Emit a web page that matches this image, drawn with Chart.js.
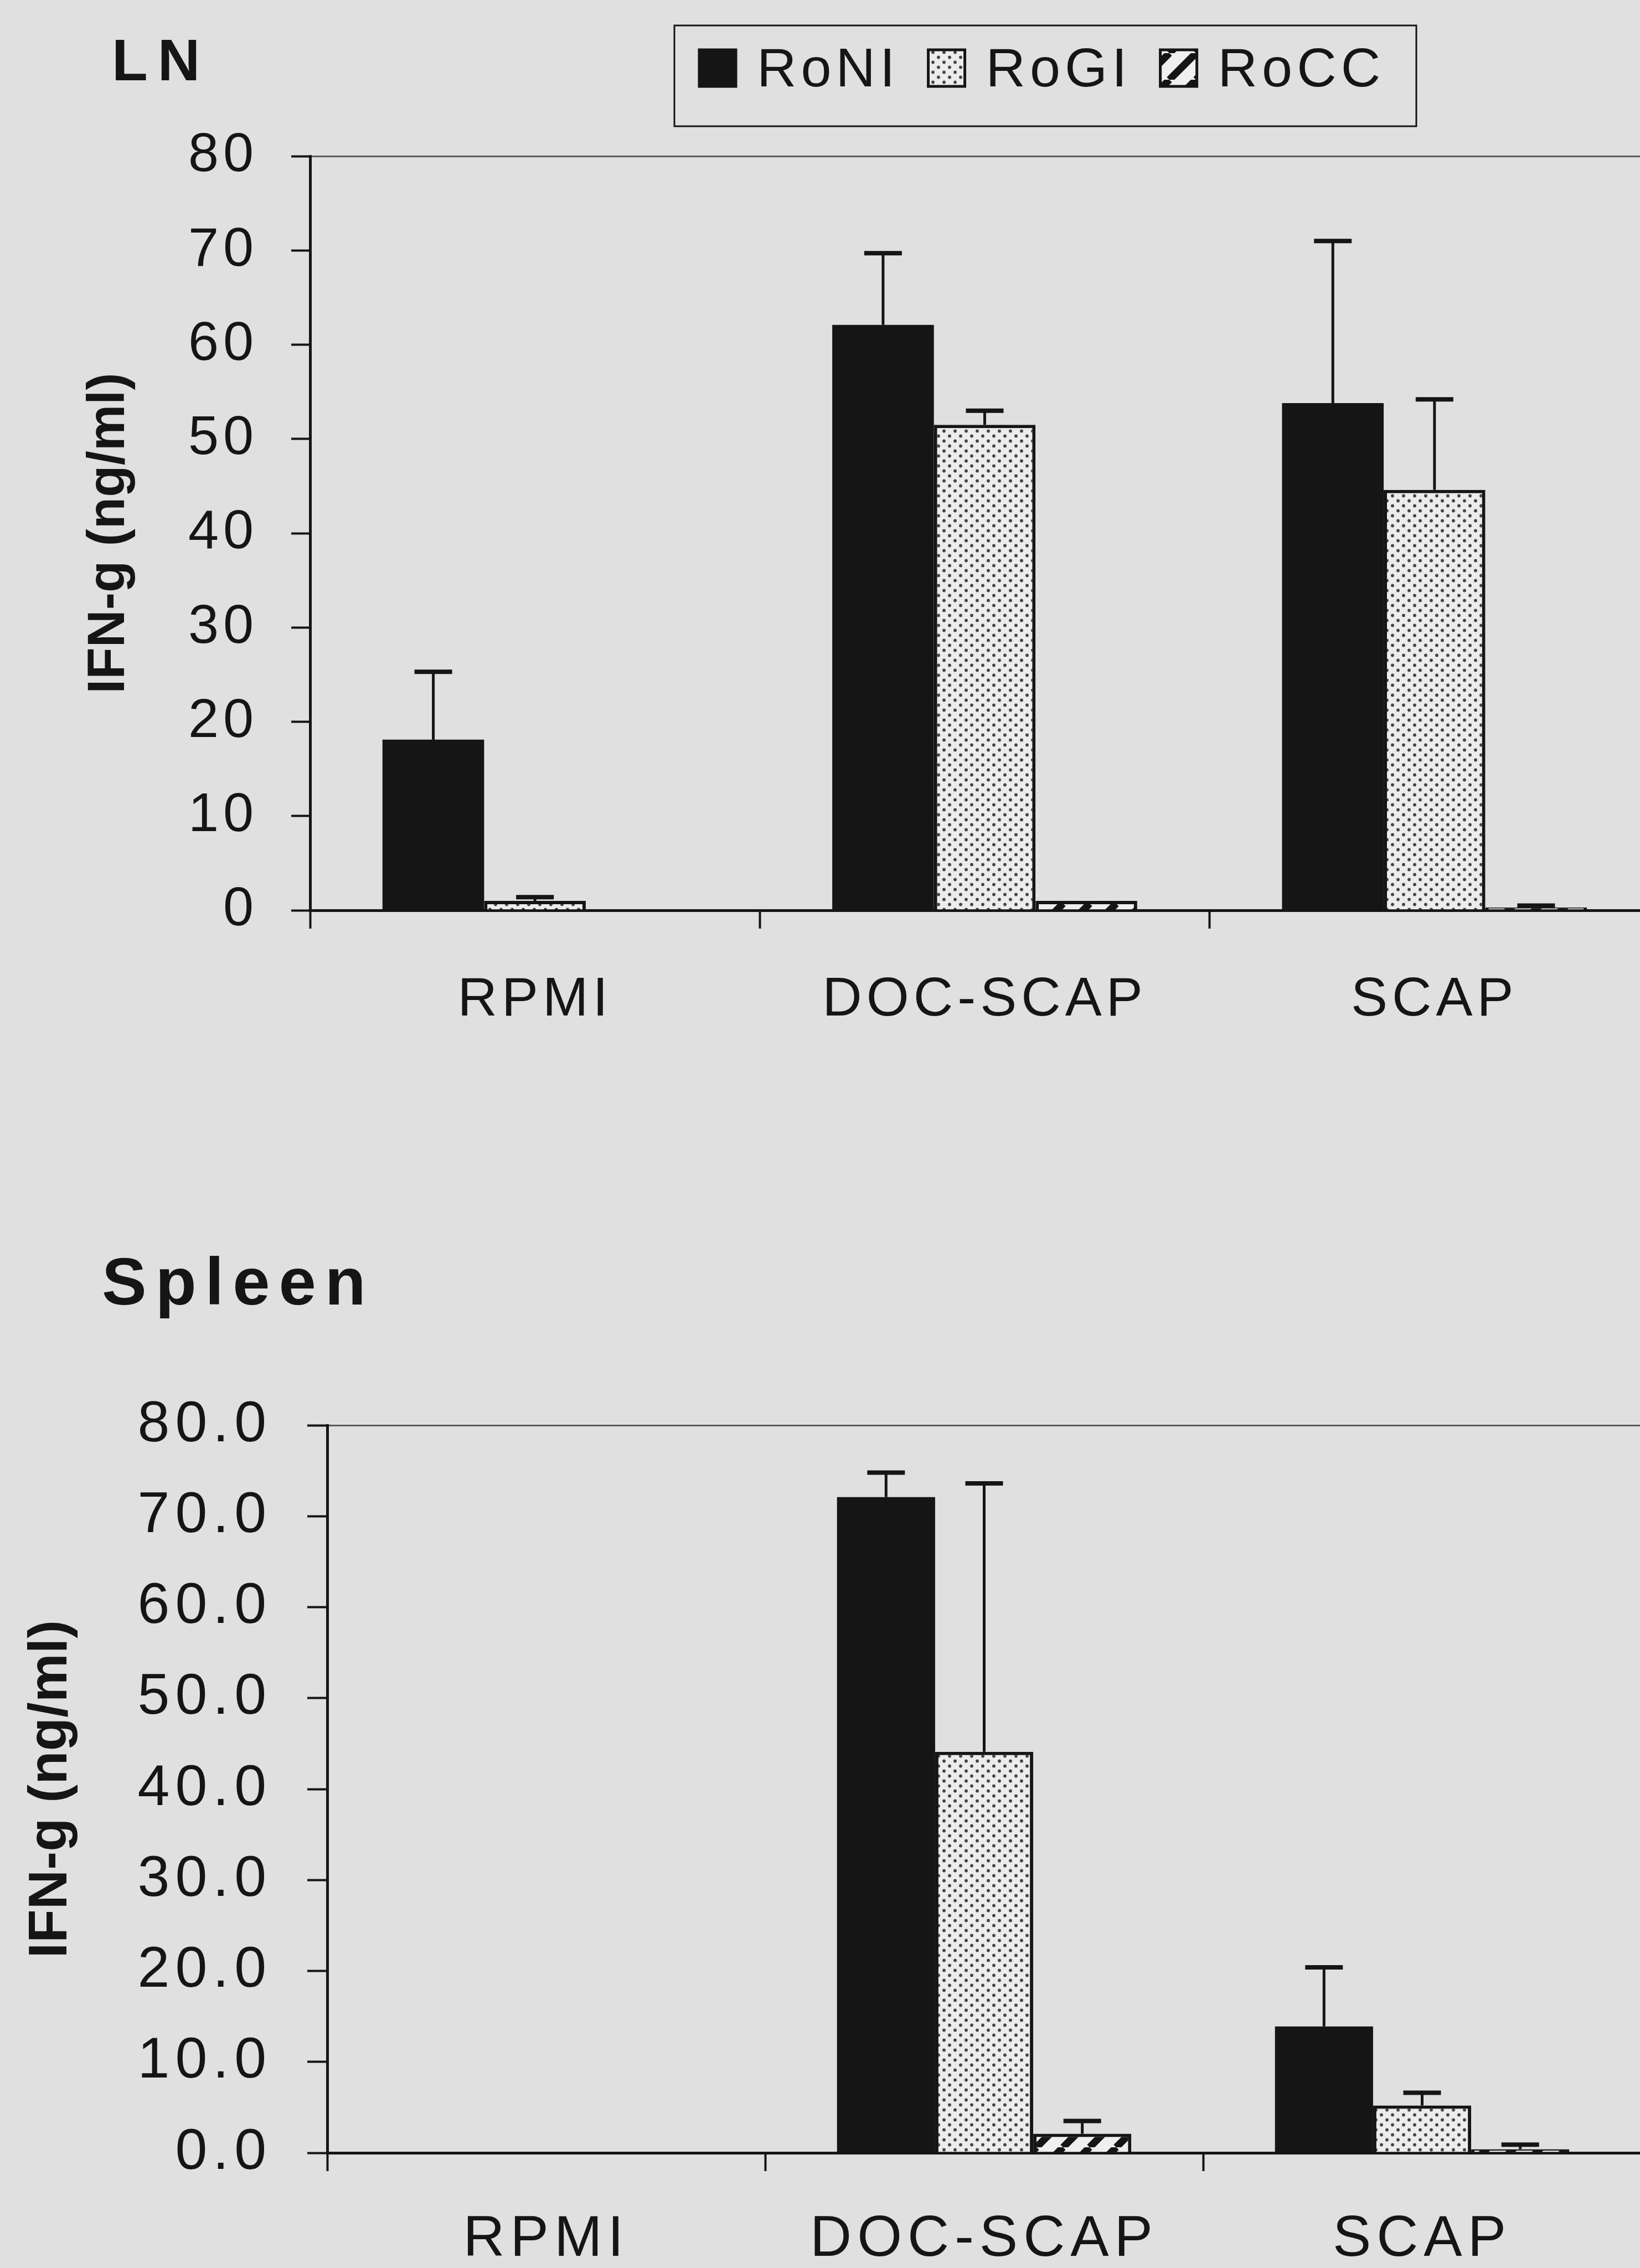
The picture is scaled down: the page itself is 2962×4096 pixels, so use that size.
<!DOCTYPE html>
<html lang="en">
<head>
<meta charset="utf-8">
<title>IFN-g production: LN and Spleen</title>
<script src="https://cdn.jsdelivr.net/npm/chart.js@4.4.1/dist/chart.umd.min.js"></script>
<style>
  html, body { margin: 0; padding: 0; background: #e0e0e0; overflow: hidden; }
  body { width: 2962px; height: 4096px; position: relative; }
  canvas { position: absolute; left: 0; display: block; }
  #lnChart { top: 0; }
  #spleenChart { top: 2150px; }
</style>
</head>
<body>
<canvas id="lnChart" width="3010" height="1900"></canvas>
<canvas id="spleenChart" width="2980" height="1946"></canvas>
<script>
// Stimulation conditions along the x axis
const categories = ['RPMI', 'DOC-SCAP', 'SCAP'];
const seriesNames = ['RoNI', 'RoGI', 'RoCC'];

// Lymph node IFN-g (ng/ml): group means and upper error (SD)
const lnRoNI = [18.1, 62.1, 53.8];
const lnRoNIErr = [7.2, 7.6, 17.2];
const lnRoGI = [1.0, 51.5, 44.6];
const lnRoGIErr = [0.4, 1.5, 9.6];
const lnRoCC = [0, 1.0, 0.3];
const lnRoCCErr = [0, 0, 0.2];

// Spleen IFN-g (ng/ml): group means and upper error (SD)
const spRoNI = [0, 72.1, 13.9];
const spRoNIErr = [0, 2.7, 6.5];
const spRoGI = [0, 44.1, 5.2];
const spRoGIErr = [0, 29.5, 1.4];
const spRoCC = [0, 2.1, 0.4];
const spRoCCErr = [0, 1.4, 0.5];

// Y axis tick values and their printed labels
const lnTickValues = [0, 10, 20, 30, 40, 50, 60, 70, 80];
const lnTickLabels = ['0', '10', '20', '30', '40', '50', '60', '70', '80'];
const spTickValues = [0, 10, 20, 30, 40, 50, 60, 70, 80];
const spTickLabels = ['0.0', '10.0', '20.0', '30.0', '40.0', '50.0', '60.0', '70.0', '80.0'];

const FAMILY = "'Liberation Sans', Arial, Helvetica, sans-serif";
const INK = '#151515';
Chart.defaults.font.family = FAMILY;
Chart.defaults.color = INK;

// Fine stipple used for RoGI
function dotFill() {
  const w = 20, h = 18;
  const c = document.createElement('canvas');
  c.width = w; c.height = h;
  const g = c.getContext('2d');
  g.fillStyle = '#ececec';
  g.fillRect(0, 0, w, h);
  g.fillStyle = '#444444';
  [[5, 4.5], [15, 13.5]].forEach(([x, y]) => {
    g.beginPath(); g.arc(x, y, 2.9, 0, 2 * Math.PI); g.fill();
  });
  return g.createPattern(c, 'repeat');
}

// Coarse forward-slash hatching used for RoCC
function hatchFill() {
  const s = 48;
  const c = document.createElement('canvas');
  c.width = s; c.height = s;
  const g = c.getContext('2d');
  g.fillStyle = '#efefef';
  g.fillRect(0, 0, s, s);
  g.strokeStyle = INK; g.lineWidth = 13;
  g.beginPath();
  for (const k of [-s, 0, s]) { g.moveTo(k, s); g.lineTo(k + s, 0); }
  g.stroke();
  return g.createPattern(c, 'repeat');
}

const fills = [INK, dotFill(), hatchFill()];

// Upward error bars read from each dataset's `errors` array
const errorBars = {
  id: 'errorBars',
  afterDatasetsDraw(chart, args, o) {
    const ctx = chart.ctx;
    const yScale = chart.scales.y;
    chart.data.datasets.forEach((ds, di) => {
      if (!ds.errors) return;
      const meta = chart.getDatasetMeta(di);
      meta.data.forEach((bar, i) => {
        const err = ds.errors[i];
        if (!err) return;
        const yBase = yScale.getPixelForValue(ds.data[i]);
        const yTop = yScale.getPixelForValue(ds.data[i] + err);
        ctx.save();
        ctx.strokeStyle = o.color;
        ctx.lineWidth = o.stem;
        ctx.beginPath(); ctx.moveTo(bar.x, yBase); ctx.lineTo(bar.x, yTop); ctx.stroke();
        ctx.lineWidth = o.cap;
        ctx.beginPath(); ctx.moveTo(bar.x - o.capLength / 2, yTop); ctx.lineTo(bar.x + o.capLength / 2, yTop); ctx.stroke();
        ctx.restore();
      });
    });
  }
};

// Tick labels are tracked out; axis title stays at normal spacing
const tracking = {
  id: 'tracking',
  beforeDraw(chart) { chart.ctx.letterSpacing = '0px'; },
  afterDatasetsDraw(chart, args, o) { chart.ctx.letterSpacing = o.px + 'px'; },
  afterDraw(chart) { chart.ctx.letterSpacing = '0px'; }
};

// Bold panel heading in the upper-left corner
const panelTitle = {
  id: 'panelTitle',
  afterDraw(chart, args, o) {
    const ctx = chart.ctx;
    ctx.save();
    ctx.letterSpacing = o.spacing + 'px';
    ctx.font = `bold ${o.size}px ${FAMILY}`;
    ctx.fillStyle = INK;
    ctx.textAlign = 'left';
    ctx.textBaseline = 'alphabetic';
    ctx.fillText(o.text, o.x, o.y);
    ctx.restore();
  }
};

// Framed single-row key built from the datasets
const boxedLegend = {
  id: 'boxedLegend',
  afterDraw(chart, args, o) {
    if (!o.show) return;
    const ctx = chart.ctx;
    ctx.save();
    ctx.strokeStyle = INK;
    ctx.lineWidth = o.frame;
    ctx.strokeRect(o.left, o.top, o.width, o.height);
    ctx.font = `${o.size}px ${FAMILY}`;
    ctx.letterSpacing = o.spacing + 'px';
    ctx.textAlign = 'left';
    ctx.textBaseline = 'alphabetic';
    let x = o.firstX;
    chart.data.datasets.forEach(ds => {
      const top = o.baseline - o.swatch;
      ctx.fillStyle = ds.backgroundColor;
      ctx.fillRect(x, top, o.swatch, o.swatch);
      ctx.lineWidth = o.swatchBorder;
      ctx.strokeStyle = INK;
      ctx.strokeRect(x, top, o.swatch, o.swatch);
      const tx = x + o.swatch + o.textGap;
      ctx.fillStyle = INK;
      ctx.fillText(ds.label, tx, o.baseline);
      x = tx + ctx.measureText(ds.label).width + o.itemGap;
    });
    ctx.restore();
  }
};

function makeDatasets(values, errors) {
  return seriesNames.map((name, i) => ({
    label: name,
    data: values[i],
    errors: errors[i],
    backgroundColor: fills[i],
    borderColor: INK,
    borderWidth: i === 0 ? 0 : 6
  }));
}

function makeChart(canvasId, values, errors, cfg) {
  return new Chart(document.getElementById(canvasId), {
    type: 'bar',
    data: { labels: categories, datasets: makeDatasets(values, errors) },
    plugins: [errorBars, tracking, panelTitle, boxedLegend],
    options: {
      responsive: false,
      animation: false,
      devicePixelRatio: 1,
      events: [],
      categoryPercentage: cfg.groupShare,
      barPercentage: 1.0,
      layout: { padding: { left: 0, top: cfg.plotTop, right: cfg.padRight, bottom: 0 } },
      plugins: {
        legend: { display: false },
        title: { display: false },
        tooltip: { enabled: false },
        errorBars: { color: INK, stem: 5, cap: 8, capLength: 68 },
        tracking: { px: cfg.tracking },
        panelTitle: cfg.heading,
        boxedLegend: cfg.key
      },
      scales: {
        x: {
          offset: true,
          grid: {
            offset: true, drawOnChartArea: false, drawTicks: true,
            tickLength: cfg.xTickLen, tickColor: INK, tickWidth: 4, color: INK
          },
          border: { display: true, color: INK, width: 5 },
          ticks: {
            z: 1, padding: cfg.xPad, color: INK, maxRotation: 0, autoSkip: false,
            font: { size: cfg.xFont }
          },
          afterFit: s => { s.height = cfg.xHeight; }
        },
        y: {
          min: 0, max: 80,
          afterBuildTicks: s => { s.ticks = cfg.tickValues.map(v => ({ value: v })); },
          ticks: {
            z: 1, padding: cfg.yPad, color: INK,
            font: { size: cfg.yFont },
            callback: (v, i) => cfg.tickLabels[i]
          },
          grid: {
            drawTicks: true, tickLength: cfg.yTickLen, tickColor: INK, tickWidth: 4,
            color: c => (c.tick && c.tick.value === 80) ? '#5c5c5c' : 'rgba(0,0,0,0)',
            lineWidth: 3
          },
          border: { display: true, color: INK, width: 5 },
          title: {
            display: true, text: 'IFN-g (ng/ml)', color: INK,
            font: { size: cfg.titleFont, weight: 'bold', lineHeight: 1 },
            padding: { top: cfg.titlePad, bottom: 0 }
          },
          afterFit: s => { s.width = cfg.yWidth; }
        }
      }
    }
  });
}

// Lymph node panel
makeChart('lnChart',
  [lnRoNI, lnRoGI, lnRoCC],
  [lnRoNIErr, lnRoGIErr, lnRoCCErr],
  {
    groupShare: 0.678, plotTop: 282, padRight: 13, yWidth: 560, xHeight: 256,
    tickValues: lnTickValues, tickLabels: lnTickLabels,
    yFont: 99, yPad: 60, yTickLen: 34,
    xFont: 99, xPad: 70, xTickLen: 33,
    titleFont: 94, titlePad: 151, tracking: 8,
    heading: { text: 'LN', x: 202, y: 145, size: 106, spacing: 18 },
    key: {
      show: true, left: 1218, top: 46, width: 1340, height: 182, frame: 3,
      firstX: 1263, baseline: 156, swatch: 66, swatchBorder: 5,
      textGap: 38, itemGap: 52, size: 99, spacing: 8
    }
  });

// Spleen panel
makeChart('spleenChart',
  [spRoNI, spRoGI, spRoCC],
  [spRoNIErr, spRoGIErr, spRoCCErr],
  {
    groupShare: 0.672, plotTop: 424, padRight: 16, yWidth: 591, xHeight: 208,
    tickValues: spTickValues, tickLabels: spTickLabels,
    yFont: 104, yPad: 64, yTickLen: 36,
    xFont: 104, xPad: 62, xTickLen: 33,
    titleFont: 99, titlePad: 43, tracking: 10,
    heading: { text: 'Spleen', x: 184, y: 206, size: 121, spacing: 16 },
    key: { show: false }
  });
</script>
</body>
</html>
